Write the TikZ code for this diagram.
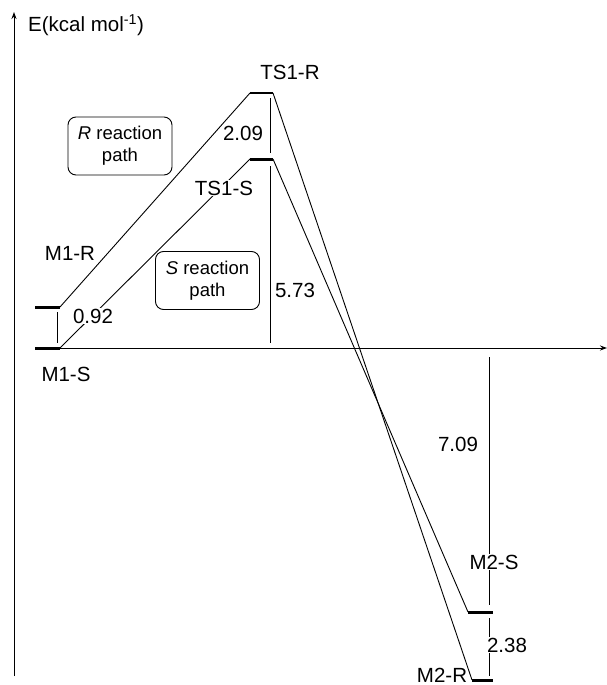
\documentclass[tikz,border=0pt]{standalone}
\usepackage{fontspec}
\setmainfont{Liberation Sans}
\usetikzlibrary{arrows.meta}
\begin{document}
\begin{tikzpicture}[x=1pt,y=-1pt,
  thin line/.style={line width=0.9pt},
  level/.style={line width=3pt},
  lbl/.style={font=\fontsize{20.5}{22}\selectfont, inner sep=1pt},
  wlbl/.style={lbl, fill=white},
  pathbox/.style={draw, line width=0.9pt, rounded corners=8pt, fill=white, align=center,
     font=\fontsize{18.5}{22}\selectfont, minimum width=104pt, minimum height=58pt, inner sep=1pt},
  axis/.style={line width=1pt, -{Stealth[length=7pt,width=5pt]}}]
\useasboundingbox (0,0) rectangle (607,685);
% axes
\coordinate (yb) at (14,676);
\coordinate (yt) at (14,12);
\coordinate (xl) at (35,348);
\coordinate (xr) at (607,348);
\draw[axis] (yb) -- (yt);
\draw[axis] (xl) -- (xr);
\node[lbl, anchor=west] (elab) at (27,25) {E(kcal mol\textsuperscript{-1})};
% level coordinates
\coordinate (m1rL) at (35,307); \coordinate (m1rR) at (60,307);
\coordinate (m1sL) at (35,348); \coordinate (m1sR) at (60,348);
\coordinate (ts1rL) at (250,93); \coordinate (ts1rR) at (273,93);
\coordinate (ts1sL) at (250,159); \coordinate (ts1sR) at (273,159);
\coordinate (m2sL) at (468,612); \coordinate (m2sR) at (493,612);
\coordinate (m2rL) at (472,680); \coordinate (m2rR) at (493,680);
% reaction paths
\draw[thin line] (m1rR) -- (ts1rL);
\draw[thin line] (m1sR) -- (ts1sL);
\draw[thin line] (ts1rR) -- (m2rL);
\draw[thin line] (ts1sR) -- (m2sL);
% energy difference lines
\coordinate (d1a) at (57,312); \coordinate (d1b) at (57,343);
\draw[thin line] (d1a) -- (d1b);
\coordinate (d2a) at (270,98); \coordinate (d2b) at (270,153);
\draw[thin line] (d2a) -- (d2b);
\coordinate (d3a) at (270,166); \coordinate (d3b) at (270,343);
\draw[thin line] (d3a) -- (d3b);
\coordinate (d4a) at (489,357); \coordinate (d4b) at (489,605);
\draw[thin line] (d4a) -- (d4b);
\coordinate (d5a) at (489,618); \coordinate (d5b) at (489,676);
\draw[thin line] (d5a) -- (d5b);
% levels
\draw[level] (m1rL) -- (m1rR);
\draw[level] (m1sL) -- (m1sR);
\draw[line width=2pt] (ts1rL) -- (ts1rR);
\draw[level] (ts1sL) -- (ts1sR);
\draw[level] (m2sL) -- (m2sR);
\draw[level] (m2rL) -- (m2rR);
% labels
\node[wlbl] (lm1r) at (70,253) {M1-R};
\node[wlbl] (lm1s) at (66,374) {M1-S};
\node[wlbl] (l092) at (93,316) {0.92};
\node[wlbl] (lts1r) at (290,72) {TS1-R};
\node[wlbl] (lts1s) at (224,188) {TS1-S};
\node[wlbl] (l209) at (243,133) {2.09};
\node[wlbl] (l573) at (295,290) {5.73};
\node[wlbl] (l709) at (458,444) {7.09};
\node[wlbl] (lm2s) at (494,562) {M2-S};
\node[wlbl] (l238) at (507,645) {2.38};
\node[lbl, fill=white, inner sep=0pt, anchor=base] (lm2r) at (442,682) {M2-R};
% boxes
\node[pathbox] (rbox) at (120,146) {\textit{R} reaction\\path};
\node[pathbox] (sbox) at (207.5,280.5) {\textit{S} reaction\\path};
\end{tikzpicture}
\end{document}
